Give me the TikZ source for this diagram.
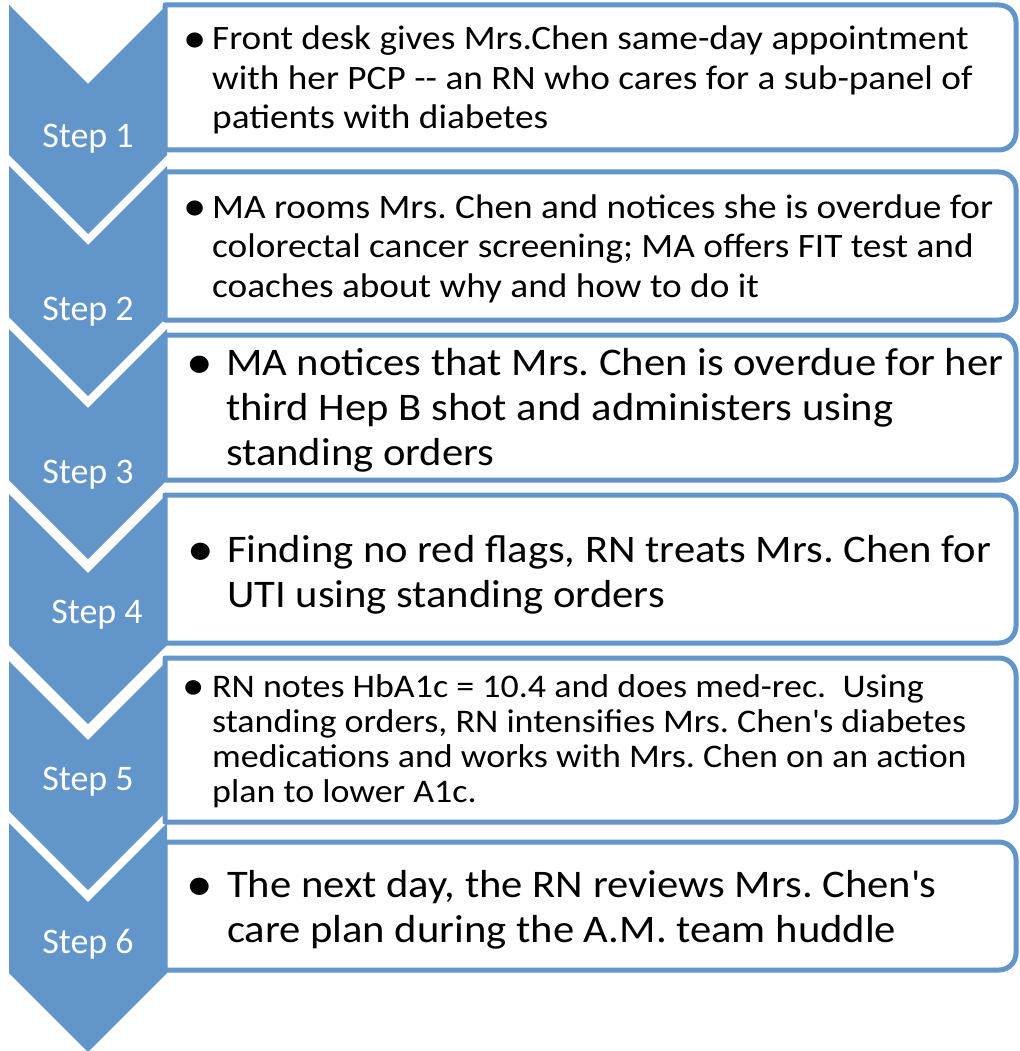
\documentclass[tikz,border=0pt]{standalone}
\usepackage{fontspec}
\newfontfamily\cfont{Carlito}
\newfontfamily\cwide{Carlito}[FakeStretch=1.09]
\frenchspacing
\definecolor{chev}{RGB}{98,149,201}
\newcommand{\chevshape}[2]{% top, bottom (pixels)
  \fill[chev] (9,-#1) -- (88,-#1-79) -- (167,-#1) -- (167,-#2) -- (88,-#2-79) -- (9,-#2) -- cycle;}
\newcommand{\boxshape}[2]{% top, bottom
  \draw[boxline] (165,-#1) -- (999,-#1) arc[start angle=90,end angle=0,radius=17] -- (1016,-#2+17) arc[start angle=0,end angle=-90,radius=17] -- (165,-#2) -- cycle;}
\newcommand{\bul}{\raisebox{-0.08em}{\scalebox{1.25}{\textbullet}}}
\tikzset{
  boxline/.style={draw=chev, line width=5pt, fill=white, line join=round},
  steplabel/.style={text=white, font=\cfont\fontsize{36}{40}\selectfont, anchor=base, inner sep=0pt},
  linetxt/.style={text=black, anchor=base west, inner sep=0pt},
  small/.style={font=\cwide\fontsize{34.2}{40}\selectfont},
  big/.style={font=\cwide\fontsize{39.1}{44}\selectfont},
  mid/.style={font=\cwide\fontsize{33}{38}\selectfont},
}
\begin{document}
\begin{tikzpicture}[x=1pt,y=1pt]
\useasboundingbox (0,0) rectangle (1019,-1051);
\fill[white] (0,0) rectangle (1019,-1051);
% chevrons
\chevshape{5}{155}
\chevshape{166}{317}
\chevshape{329}{480}
\chevshape{494}{645}
\chevshape{661}{811}
\chevshape{823}{973}
% boxes
\boxshape{5}{150}
\boxshape{172}{320}
\boxshape{335}{480}
\boxshape{495}{643}
\boxshape{658}{822}
\boxshape{842}{970}
% step labels
\node[steplabel] (s1) at (88,-148) {Step 1};
\node[steplabel] (s2) at (88,-320) {Step 2};
\node[steplabel] (s3) at (88,-483) {Step 3};
\node[steplabel] (s4) at (97,-623) {Step 4};
\node[steplabel] (s5) at (88,-790) {Step 5};
\node[steplabel] (s6) at (88,-953) {Step 6};
% box 1
\node[linetxt,small] (b1b) at (183,-50) {\bul};
\node[linetxt,small] (b1a) at (212,-50) {Front desk gives Mrs.Chen same-day appointment};
\node[linetxt,small] (b1c) at (212,-89.5) {with her PCP -{}- an RN who cares for a sub-panel of};
\node[linetxt,small] (b1d) at (212,-129) {patients with diabetes};
% box 2
\node[linetxt,small] (b2b) at (183,-218) {\bul};
\node[linetxt,small] (b2a) at (212,-218) {MA rooms Mrs. Chen and notices she is overdue for};
\node[linetxt,small] (b2c) at (212,-257.5) {colorectal cancer screening; MA offers FIT test and};
\node[linetxt,small] (b2d) at (212,-297) {coaches about why and how to do it};
% box 3
\node[linetxt,big] (b3b) at (186,-375) {\bul};
\node[linetxt,big] (b3a) at (226,-375) {MA notices that Mrs. Chen is overdue for her};
\node[linetxt,big] (b3c) at (226,-420) {third Hep B shot and administers using};
\node[linetxt,big] (b3d) at (226,-465) {standing orders};
% box 4
\node[linetxt,big] (b4b) at (187,-562) {\bul};
\node[linetxt,big] (b4a) at (227,-562) {Finding no red flags, RN treats Mrs. Chen for};
\node[linetxt,big] (b4c) at (227,-607) {UTI using standing orders};
% box 5
\node[linetxt,mid] (b5b) at (182,-697) {\bul};
\node[linetxt,mid] (b5a) at (212,-697) {RN notes HbA1c = 10.4 and does med-rec.\ \ Using};
\node[linetxt,mid] (b5c) at (212,-732) {standing orders, RN intensifies Mrs. Chen\textquotesingle s diabetes};
\node[linetxt,mid] (b5d) at (212,-767) {medications and works with Mrs. Chen on an action};
\node[linetxt,mid] (b5e) at (212,-802) {plan to lower A1c.};
% box 6
\node[linetxt,big] (b6b) at (186,-897) {\bul};
\node[linetxt,big] (b6a) at (227,-897) {The next day, the RN reviews Mrs. Chen\textquotesingle s};
\node[linetxt,big] (b6c) at (227,-942) {care plan during the A.M. team huddle};
\end{tikzpicture}
\end{document}
